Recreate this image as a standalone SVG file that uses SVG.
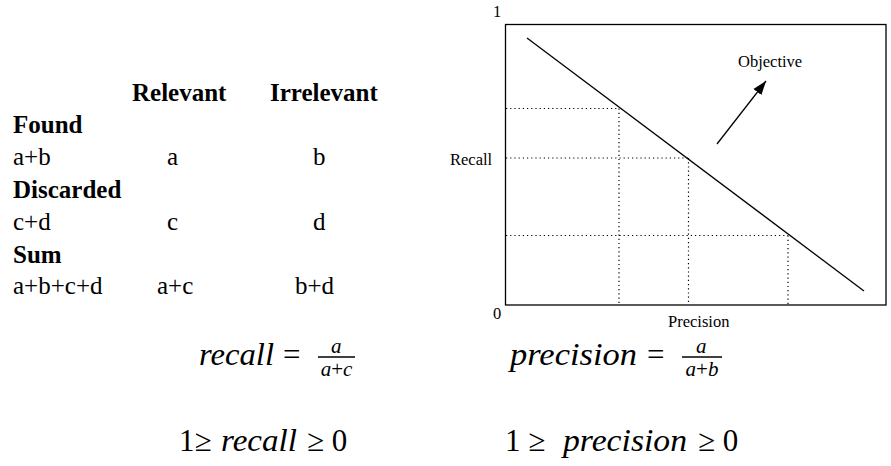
<svg xmlns="http://www.w3.org/2000/svg" width="891" height="466" viewBox="0 0 891 466">
<style>
text{font-family:"Liberation Serif","Times New Roman",Times,serif;fill:#000}
.b{font-weight:bold;font-size:25px}
.r{font-size:25px}
.s{font-size:16.5px}
.m{font-style:italic;font-size:31px}
.mf{font-style:italic;font-size:21px}
.n{font-style:normal}
.dot{stroke:#000;stroke-width:1.2;stroke-dasharray:1.2 3;fill:none}
</style>
<defs>
<marker id="ah" markerUnits="userSpaceOnUse" markerWidth="16" markerHeight="12" refX="14" refY="6" orient="auto">
<path d="M0,1 L14,6 L0,11 Z" fill="#000"/>
</marker>
</defs>
<rect width="891" height="466" fill="#fff"/>
<g id="table">
<text class="b" x="132" y="101">Relevant</text>
<text class="b" x="270" y="101">Irrelevant</text>
<text class="b" x="13" y="133">Found</text>
<text class="r" x="13" y="165">a+b</text>
<text class="r" x="167" y="165">a</text>
<text class="r" x="313" y="165">b</text>
<text class="b" x="13" y="198">Discarded</text>
<text class="r" x="13" y="230">c+d</text>
<text class="r" x="167" y="230">c</text>
<text class="r" x="313" y="230">d</text>
<text class="b" x="13" y="263">Sum</text>
<text class="r" x="13" y="294">a+b+c+d</text>
<text class="r" x="157" y="294">a+c</text>
<text class="r" x="295" y="294">b+d</text>
</g>
<g id="chart">
<rect x="505.5" y="24.5" width="380.5" height="280.5" fill="none" stroke="#000" stroke-width="1.3"/>
<line x1="527" y1="38" x2="864" y2="291" stroke="#000" stroke-width="1.3"/>
<path class="dot" d="M506,108.5 H619 M506,158 H688 M506,235.5 H788 M619,108.5 V305 M688.5,158 V305 M788,235.5 V305"/>
<text class="s" x="493" y="17">1</text>
<text class="s" x="493" y="319">0</text>
<text class="s" x="450" y="165">Recall</text>
<text class="s" x="668" y="327">Precision</text>
<text class="s" x="738" y="67">Objective</text>
</g>
<g id="connectors">
<line x1="717" y1="144" x2="766" y2="81" stroke="#000" stroke-width="1.3" marker-end="url(#ah)"/>
</g>
<g id="formulas">
<text class="m" x="199" y="365" textLength="75" lengthAdjust="spacingAndGlyphs">recall</text>
<text class="m n" x="283" y="365">=</text>
<text class="mf" x="331" y="353">a</text>
<line x1="318" y1="357" x2="355" y2="357" stroke="#000" stroke-width="1.3"/>
<text class="mf" x="336.5" y="376" text-anchor="middle">a<tspan class="n">+</tspan>c</text>
<text class="m" x="510" y="365" textLength="127" lengthAdjust="spacingAndGlyphs">precision</text>
<text class="m n" x="647" y="365">=</text>
<text class="mf" x="696" y="353">a</text>
<line x1="682" y1="357" x2="722" y2="357" stroke="#000" stroke-width="1.3"/>
<text class="mf" x="702" y="376" text-anchor="middle">a<tspan class="n">+</tspan>b</text>
<text class="m n" x="179" y="451">1≥</text>
<text class="m" x="221" y="451" textLength="76" lengthAdjust="spacingAndGlyphs">recall</text>
<text class="m n" x="307" y="451">≥ 0</text>
<text class="m n" x="505" y="451">1 ≥</text>
<text class="m" x="563" y="451" textLength="124" lengthAdjust="spacingAndGlyphs">precision</text>
<text class="m n" x="698" y="451">≥ 0</text>
</g>
</svg>
